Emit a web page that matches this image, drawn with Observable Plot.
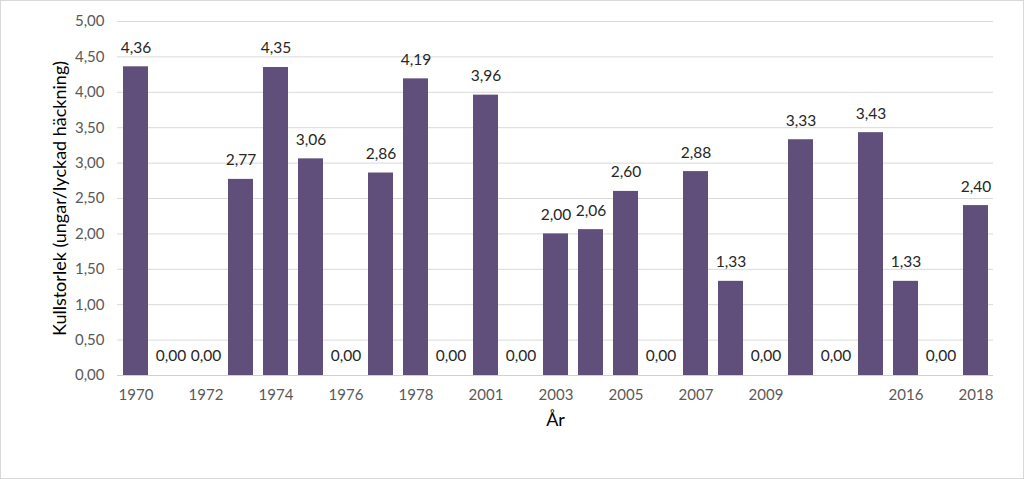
<!DOCTYPE html>
<html>
<head>
<meta charset="utf-8">
<script src="https://cdn.jsdelivr.net/npm/d3@7"></script>
<script src="https://cdn.jsdelivr.net/npm/@observablehq/plot@0.6"></script>
<style>
  html, body { margin: 0; padding: 0; background: #fff; }
  #chart svg { display: block; outline: 1px solid #d9d9d9; outline-offset: -1px; }
</style>
</head>
<body>
<div id="chart"></div>
<script>
const years = ["1970","1971","1972","1973","1974","1975","1976","1977","1978","1979",
  "2001","2002","2003","2004","2005","2006","2007","2008","2009","2010",
  "2011","2015","2016","2017","2018"];
const values = [4.36,0,0,2.77,4.35,3.06,0,2.86,4.19,0,
  3.96,0,2.00,2.06,2.60,0,2.88,1.33,0,3.33,
  0,3.43,1.33,0,2.40];
const shownTicks = ["1970","1972","1974","1976","1978","2001","2003","2005","2007","2009","2016","2018"];
const yTicks = [0,0.5,1,1.5,2,2.5,3,3.5,4,4.5,5];

const data = years.map((y, i) => ({year: y, value: values[i]}));
const fmt = v => v.toFixed(2).replace(".", ",");

const chart = Plot.plot({
  width: 1024,
  height: 479,
  marginLeft: 117,
  marginRight: 31,
  marginTop: 21,
  marginBottom: 104,
  style: {fontFamily: "Lato, 'Open Sans', sans-serif", fontSize: "15px", color: "#595959", background: "#fff"},
  x: {domain: years, padding: 0.286, paddingOuter: 0.143},
  y: {domain: [0, 5]},
  marks: [
    Plot.gridY(yTicks, {stroke: "#d9d9d9", strokeOpacity: 1}),
    Plot.ruleY([0], {stroke: "#d0d0d0"}),
    Plot.barY(data, {x: "year", y: "value", fill: "#604f7a"}),
    Plot.text(data, {x: "year", y: "value", text: d => fmt(d.value), dy: -19, fill: "#262626", fontSize: 15.5}),
    Plot.axisY(yTicks, {tickSize: 0, tickPadding: 13, tickFormat: fmt, fontSize: 15, fill: "#595959",
      label: "Kullstorlek (ungar/lyckad häckning)", labelAnchor: "center", labelArrow: "none", labelOffset: 64}),
    Plot.axisX(shownTicks, {tickSize: 0, tickPadding: 14, fontSize: 15, fill: "#595959",
      label: "År", labelAnchor: "center", labelArrow: "none", labelOffset: 50})
  ]
});
document.getElementById("chart").appendChild(chart);
chart.querySelectorAll("[aria-label='y-axis label'] text, [aria-label='x-axis label'] text").forEach(t => {
  t.setAttribute("font-size", "18px");
  t.setAttribute("fill", "#000");
});
</script>
</body>
</html>
